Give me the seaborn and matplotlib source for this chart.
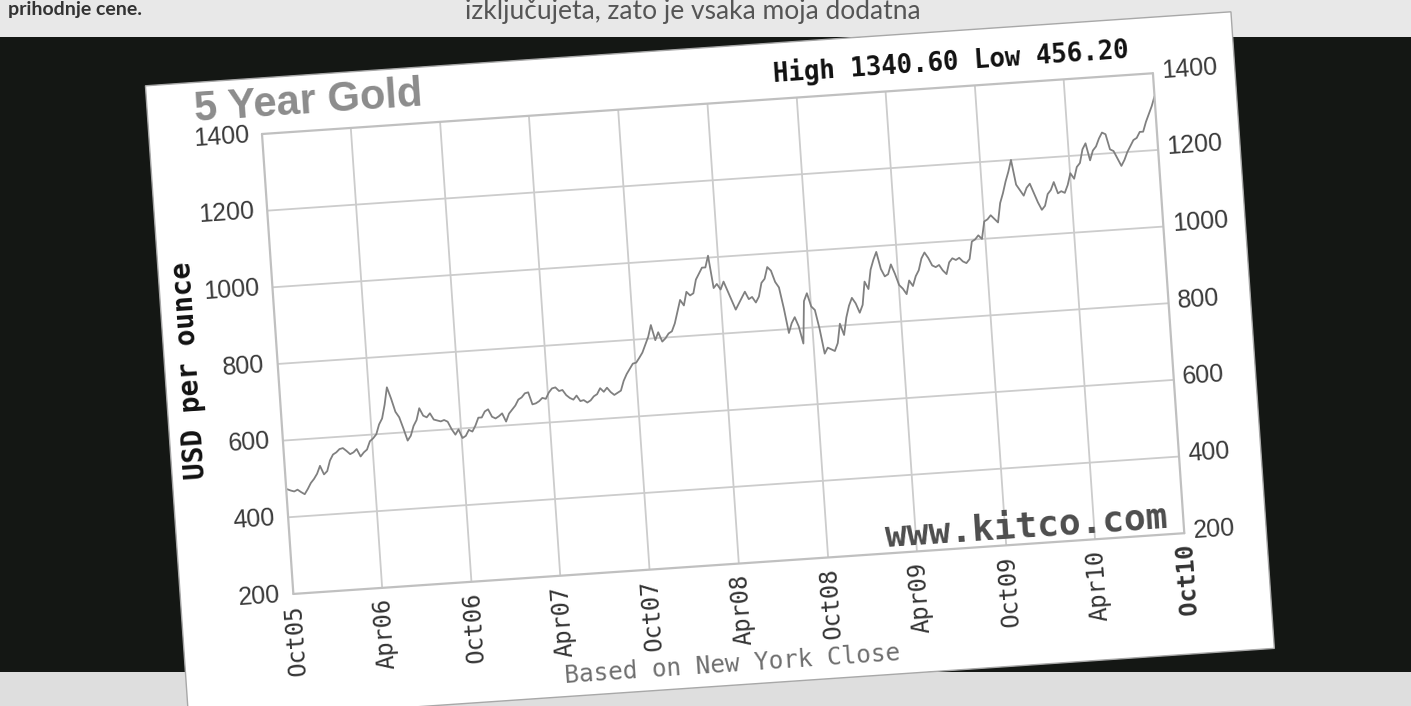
import matplotlib
matplotlib.use("Agg")
import matplotlib.pyplot as plt
import pandas as pd
import seaborn as sns
from matplotlib.transforms import Affine2D
from matplotlib.patches import Polygon, Rectangle
import mpl_toolkits.axisartist.floating_axes as floating_axes
from mpl_toolkits.axisartist.grid_finder import FixedLocator

sns.set_style("white")

# weekly gold close (USD per ounce)
gold_2005 = [473, 469, 466, 470, 463, 457, 470, 485, 495, 508, 528, 505, 513]
gold_2006 = [540, 555, 560, 568, 570, 562, 553, 557, 565, 545, 555, 562, 583,
             590, 600, 625, 640, 675, 720, 690, 655, 640, 610, 578, 590, 615,
             630, 660, 640, 635, 645, 628, 625, 622, 625, 620, 600, 585, 598,
             575, 580, 595, 590, 605, 625, 625, 640, 645, 625, 620, 625, 632]
gold_2007 = [610, 630, 640, 650, 665, 670, 680, 682, 650, 652, 657, 665, 662,
             678, 688, 690, 680, 682, 668, 660, 655, 665, 650, 652, 645, 650,
             660, 665, 680, 670, 680, 668, 660, 665, 670, 695, 712, 725, 738,
             740, 752, 765, 785, 805, 835, 795, 815, 790, 798, 810, 815, 835]
gold_2008 = [865, 895, 880, 915, 905, 910, 945, 960, 975, 975, 1005, 920, 930,
             915, 935, 910, 885, 860, 875, 890, 905, 885, 890, 875, 890, 925,
             935, 965, 955, 925, 910, 855, 790, 815, 830, 805, 760, 870, 890,
             855, 845, 795, 730, 745, 740, 735, 755, 805, 775, 820, 850, 870]
gold_2009 = [855, 830, 850, 910, 890, 940, 965, 985, 940, 920, 925, 950, 925,
             895, 885, 870, 905, 890, 915, 930, 960, 975, 960, 940, 935, 940,
             925, 915, 945, 955, 950, 955, 945, 940, 950, 995, 1000, 1010, 1000,
             1045, 1050, 1060, 1050, 1040, 1090, 1115, 1145, 1170, 1200, 1135,
             1120, 1105]
gold_2010 = [1125, 1135, 1110, 1085, 1065, 1075, 1105, 1115, 1135, 1105, 1110,
             1105, 1125, 1155, 1140, 1170, 1180, 1215, 1230, 1185, 1210, 1220,
             1240, 1255, 1250, 1210, 1205, 1185, 1165, 1180, 1200, 1215, 1230,
             1235, 1250, 1250, 1275, 1295, 1315, 1340]

tick_labels = ["Oct05", "Apr06", "Oct06", "Apr07", "Oct07", "Apr08",
               "Oct08", "Apr09", "Oct09", "Apr10", "Oct10"]
tick_dates = ["2005-10-01", "2006-04-01", "2006-10-01", "2007-04-01",
              "2007-10-01", "2008-04-01", "2008-10-01", "2009-04-01",
              "2009-10-01", "2010-04-01", "2010-10-01"]
y_ticks = [200, 400, 600, 800, 1000, 1200, 1400]

prices = gold_2005 + gold_2006 + gold_2007 + gold_2008 + gold_2009 + gold_2010
start = pd.Timestamp(tick_dates[0])
span = (pd.Timestamp(tick_dates[-1]) - start).days
dates = pd.date_range("2005-10-03", "2010-10-01", periods=len(prices))
df = pd.DataFrame({"day": (dates - start).total_seconds() / 86400, "price": prices})
tick_days = [(pd.Timestamp(d) - start).days for d in tick_dates]

# picture geometry (pixels)
W, H = 1411, 706
PW, PH = 893, 461
ANG = 3.9
X0, Y0 = 262, 134
YMIN, YMAX = 200, 1400

tr = (Affine2D().translate(0, -YMAX).scale(PW / span, PH / (YMAX - YMIN))
      .rotate_deg(ANG).translate(X0, H - Y0))


def uv(u, v):
    # offset in pixels along the tilted chart -> data coords
    return u * span / PW, YMAX - v * (YMAX - YMIN) / PH


grid_helper = floating_axes.GridHelperCurveLinear(
    tr, extremes=(0, span, YMIN, YMAX),
    grid_locator1=FixedLocator(tick_days),
    grid_locator2=FixedLocator(y_ticks))

fig = plt.figure(figsize=(W / 100, H / 100), dpi=100)
fig.patch.set_facecolor("#141714")
ax = fig.add_axes([0, 0, 1, 1], axes_class=floating_axes.FloatingAxes,
                  grid_helper=grid_helper)
ax.set_xlim(0, W)
ax.set_ylim(0, H)
for side in ["left", "right", "top", "bottom"]:
    ax.axis[side].toggle(ticks=False, ticklabels=False, label=False)
    ax.axis[side].line.set_color("#c0c0c0")
    ax.axis[side].line.set_linewidth(1.6)
ax.grid(True, color="#cccccc", linewidth=1.3)

aux = ax.get_aux_axes(tr)
aux.patch = ax.patch
ax.patch.zorder = 0.9

# page strips and the white card
fig.add_artist(Rectangle((0, 1 - 37 / H), 1, 37 / H, transform=fig.transFigure,
                         fc="#e8e8e8", ec="none", zorder=-1))
fig.add_artist(Rectangle((0, 0), 1, 34 / H, transform=fig.transFigure,
                         fc="#dedede", ec="none", zorder=-1))
card = [uv(-113, -56), uv(975, -56), uv(975, 582), uv(-113, 582)]
fig.add_artist(Polygon(card, closed=True, transform=aux.transData,
                       fc="white", ec="#a8a8a8", lw=1, zorder=-0.5))
fig.text(8 / W, 1 - 15 / H, "prihodnje cene.", family="Lato", weight="bold",
         size=14, color="#333333", va="baseline")
fig.text(465 / W, 1 - 19 / H, "izključujeta, zato je vsaka moja dodatna",
         family="Lato", size=19, color="#555555", va="baseline")

sns.lineplot(data=df, x="day", y="price", ax=aux, color="#808080",
             linewidth=1.3, legend=False)

mono = "DejaVu Sans Mono"
for val in y_ticks:
    aux.text(*uv(-13, (YMAX - val) * PH / (YMAX - YMIN)), str(val),
             ha="right", va="center", rotation=ANG, rotation_mode="anchor",
             family="Liberation Sans", size=18, color="#3a3a3a")
    aux.text(*uv(PW + 9, (YMAX - val) * PH / (YMAX - YMIN) - 2), str(val),
             ha="left", va="center", rotation=ANG, rotation_mode="anchor",
             family="Liberation Sans", size=18, color="#3a3a3a")
for d, lab in zip(tick_days, tick_labels):
    aux.text(d, uv(0, PH + 10)[1], lab, ha="right", va="center",
             rotation=ANG + 90, rotation_mode="anchor", family=mono, size=17,
             weight="bold" if lab == "Oct10" else "normal", color="#333333")

aux.text(*uv(-88, PH / 2), "USD per ounce", ha="center", va="center",
         rotation=ANG + 90, rotation_mode="anchor", family=mono,
         weight="bold", size=20, color="#111111")
aux.text(*uv(-66, -18), "5 Year Gold", ha="left", va="baseline",
         rotation=ANG, rotation_mode="anchor", family="Liberation Sans",
         weight="bold", size=30, color="#8c8c8c")
aux.text(*uv(870, -17), "High 1340.60 Low 456.20", ha="right", va="baseline",
         rotation=ANG, rotation_mode="anchor", family=mono, weight="bold",
         size=18.5, color="#111111")
aux.text(*uv(877, 454), "www.kitco.com", ha="right", va="baseline",
         rotation=ANG, rotation_mode="anchor", family=mono, weight="bold",
         size=26, color="#4d4d4d")
aux.text(*uv(265, 568), "Based on New York Close", ha="left", va="baseline",
         rotation=ANG, rotation_mode="anchor", family=mono, size=17.5,
         color="#6e6e6e")

fig.savefig("out.png", dpi=100)
